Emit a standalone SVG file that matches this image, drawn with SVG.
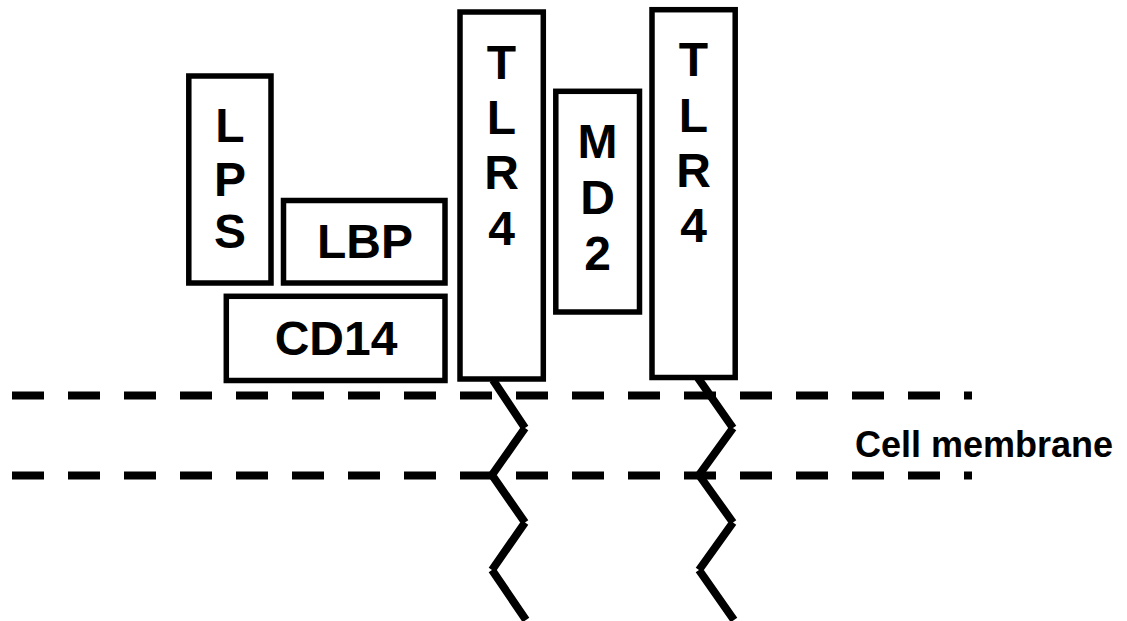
<svg xmlns="http://www.w3.org/2000/svg" width="1127" height="621" viewBox="0 0 1127 621">
  <style>
    .box { fill: #ffffff; stroke: #000000; stroke-width: 5.5; }
    .lbl { font-family: "Liberation Sans", Arial, sans-serif; font-weight: bold; font-size: 48px; fill: #000000; text-anchor: middle; }
    .membrane { fill: none; stroke: #000000; stroke-width: 8; stroke-dasharray: 32 24; }
    .chain { fill: none; stroke: #000000; stroke-width: 8; stroke-linecap: butt; }
    .caption { font-family: "Liberation Sans", Arial, sans-serif; font-weight: bold; font-size: 36px; fill: #000000; }
  </style>
  <rect width="1127" height="621" fill="#ffffff"/>

  <!-- lipid bilayer boundaries -->
  <g id="membrane">
    <line class="membrane" x1="12" y1="395.5" x2="972" y2="395.5"/>
    <line class="membrane" x1="12" y1="475.5" x2="972" y2="475.5"/>
    <text class="caption" x="855" y="457">Cell membrane</text>
  </g>

  <!-- transmembrane / cytoplasmic tails of the two receptors -->
  <g id="connectors">
    <path class="chain" d="M493 380 L525 428 M525 428 L492 475 M492 475 L525 522.5 M525 522.5 L492 570 M492 570 L526 620"/>
    <path class="chain" d="M698 378 L733 428 M733 428 L699 475 M699 475 L733 522.5 M733 522.5 L699 570 M699 570 L734 620"/>
  </g>

  <g id="lps">
    <rect class="box" x="188.8" y="76" width="82.2" height="207"/>
    <text class="lbl" x="230" y="141.5">L</text>
    <text class="lbl" x="230" y="195.5">P</text>
    <text class="lbl" x="230" y="248">S</text>
  </g>

  <g id="lbp">
    <rect class="box" x="283.5" y="200.5" width="161.5" height="82.5"/>
    <text class="lbl" x="365" y="258">LBP</text>
  </g>

  <g id="cd14">
    <rect class="box" x="226.3" y="296.3" width="218.7" height="84.2"/>
    <text class="lbl" x="336" y="355">CD14</text>
  </g>

  <g id="tlr4-a">
    <rect class="box" x="460" y="12" width="83.3" height="367"/>
    <text class="lbl" x="501.5" y="79.3">T</text>
    <text class="lbl" x="501.5" y="134.3">L</text>
    <text class="lbl" x="501.5" y="189.3">R</text>
    <text class="lbl" x="501.5" y="245">4</text>
  </g>

  <g id="md2">
    <rect class="box" x="555.8" y="91.3" width="83.7" height="220.7"/>
    <text class="lbl" x="597.6" y="158.3">M</text>
    <text class="lbl" x="597.6" y="213.5">D</text>
    <text class="lbl" x="597.6" y="269.5">2</text>
  </g>

  <g id="tlr4-b">
    <rect class="box" x="652" y="9.7" width="83.2" height="367.8"/>
    <text class="lbl" x="693.5" y="76">T</text>
    <text class="lbl" x="693.5" y="131.5">L</text>
    <text class="lbl" x="693.5" y="186.7">R</text>
    <text class="lbl" x="693.5" y="242">4</text>
  </g>
</svg>
